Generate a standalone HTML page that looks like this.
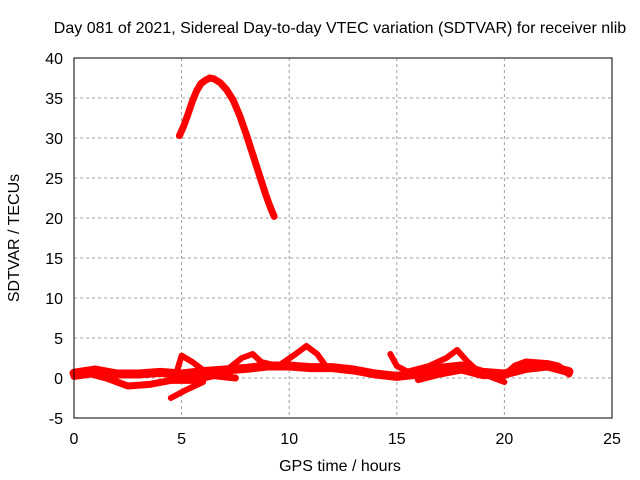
<!DOCTYPE html>
<html><head><meta charset="utf-8"><style>
body{margin:0;background:#fff}
svg{display:block;font-family:"Liberation Sans",sans-serif}
</style></head><body>
<svg id="chart" width="640" height="480">
<text x="340" y="33" text-anchor="middle" font-size="16">Day 081 of 2021, Sidereal Day-to-day VTEC variation (SDTVAR) for receiver nlib</text>
<text x="340" y="471" text-anchor="middle" font-size="16">GPS time / hours</text>
<text transform="translate(19,238) rotate(-90)" text-anchor="middle" font-size="16">SDTVAR / TECUs</text>
<g id="grid"></g><g id="series"></g>
<rect x="74" y="58" width="538" height="360" fill="none" stroke="#000" stroke-width="1"/>
</svg>
<script>
const xTicks=[0,5,10,15,20,25];
const yTicks=[-5,0,5,10,15,20,25,30,35,40];
const arcX=[4.9,5.1,5.3,5.5,5.7,5.9,6.1,6.3,6.5,6.8,7.1,7.4,7.7,8,8.3,8.6,8.9,9.1,9.3];
const arcY=[30.3,31.5,33,34.6,35.9,36.8,37.2,37.5,37.4,36.9,36,34.7,32.8,30.5,28,25.5,23,21.5,20.2];
const bandX=[0,1,2,3,4,5,6,7,8,9,10,11,12,13,14,15,16,17,18,19,20,21,22,23];
const bandY=[0.6,1,0.5,0.5,0.7,0.5,0.8,1,1.2,1.5,1.5,1.3,1.3,1,0.5,0.2,0.5,1.2,1.5,0.7,0.5,1.2,1.5,0.8];
const bumpX=[4.8,5,5.5,6,7,7.8,8.3,8.7,9.5,10.3,10.8,11.3,11.7,12.5,13];
const bumpY=[1,2.8,2,1,0.8,2.5,3,2,1.5,3,4,3,1.5,1,1];
const lowX=[0,0.8,1.5,2.5,3.5,4.5,5.5,6.5,7.5];
const lowY=[0.2,0.5,0,-1,-0.8,-0.3,-0.3,0.3,0];
const dipX=[4.5,5.2,6];
const dipY=[-2.5,-1.5,-0.5];
const r1X=[14.7,15,15.5,16.5,17.3,17.8,18.3,18.8,19.5,20];
const r1Y=[3,1.5,0.8,1.5,2.5,3.5,2,0.8,0,-0.5];
const r2X=[16,17,18,19,20,20.5,21,22,22.5,23];
const r2Y=[-0.2,0.5,1,0.3,0.3,1.5,2,1.8,1.5,0.5];
const X=v=>74+v*538/25, Y=v=>418-(v+5)*8;
const NS='http://www.w3.org/2000/svg';
const g=document.getElementById('grid'), s=document.getElementById('series');
xTicks.forEach(t=>{
 if(t>0&&t<25){const l=document.createElementNS(NS,'line');l.setAttribute('x1',X(t));l.setAttribute('x2',X(t));l.setAttribute('y1',58);l.setAttribute('y2',418);l.setAttribute('stroke','#a0a0a0');l.setAttribute('stroke-dasharray','3,3');
 
 g.appendChild(l);}
 const k=document.createElementNS(NS,'text');k.setAttribute('x',X(t));k.setAttribute('y',444);k.setAttribute('text-anchor','middle');k.setAttribute('font-size','16');k.textContent=t;
 
 g.appendChild(k);
});
yTicks.forEach(t=>{
 if(t>-5&&t<40){const l=document.createElementNS(NS,'line');l.setAttribute('x1',74);l.setAttribute('x2',612);l.setAttribute('y1',Y(t));l.setAttribute('y2',Y(t));l.setAttribute('stroke','#a0a0a0');l.setAttribute('stroke-dasharray','3,3');
 
 g.appendChild(l);}
 const k=document.createElementNS(NS,'text');k.setAttribute('x',63);k.setAttribute('y',Y(t)+6);k.setAttribute('text-anchor','end');k.setAttribute('font-size','16');k.textContent=t;
 
 g.appendChild(k);
});
function draw(xs,ys,w,name){
 const p=document.createElementNS(NS,'polyline');
 p.setAttribute('points',xs.map((x,i)=>X(x)+','+Y(ys[i])).join(' '));
 p.setAttribute('fill','none');p.setAttribute('stroke','#ff0000');p.setAttribute('stroke-width',w);p.setAttribute('stroke-linejoin','round');p.setAttribute('stroke-linecap','round');
 
 
 s.appendChild(p);
}
draw(arcX,arcY,7,'series-arc');
draw(bandX,bandY,9,'series-band');
draw(bumpX,bumpY,6,'series-bumps');
draw(lowX,lowY,7,'series-low');
draw(dipX,dipY,6,'series-dip');
draw(r1X,r1Y,6,'series-right-1');
draw(r2X,r2Y,7,'series-right-2');
</script>
</body></html>
